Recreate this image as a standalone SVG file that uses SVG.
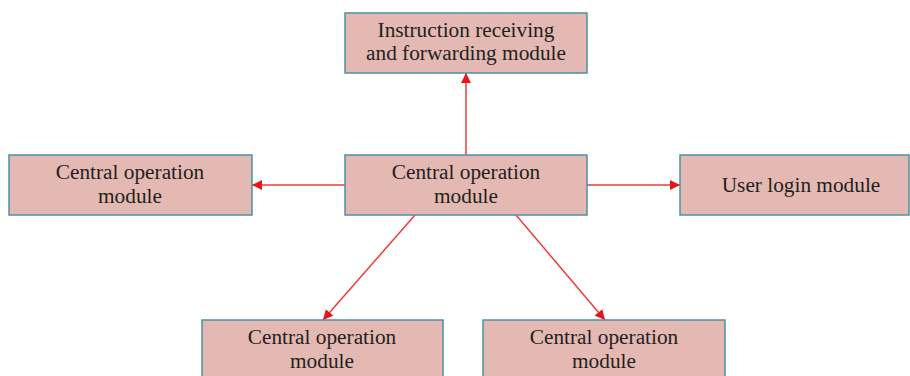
<svg xmlns="http://www.w3.org/2000/svg" width="910" height="376" viewBox="0 0 910 376">
<style>
.box{fill:#e4b9b4;stroke:#4b93a3;stroke-width:1.5}
.t{font-family:"Liberation Serif","Times New Roman",serif;font-size:21.3px;fill:#231f20;text-anchor:middle}
.c{stroke:#ef3b3b;stroke-width:1.5;fill:none;marker-end:url(#ah)}
</style>
<defs>
<marker id="ah" viewBox="0 0 10 10" refX="10" refY="5" markerWidth="11" markerHeight="10" markerUnits="userSpaceOnUse" orient="auto">
<path d="M0,0 L10,5 L0,10 z" fill="#e8151b"/>
</marker>
</defs>
<rect width="910" height="376" fill="#fff"/>
<g id="connectors">
<line class="c" x1="466" y1="155" x2="466" y2="73"/>
<line class="c" x1="345" y1="185" x2="252" y2="185"/>
<line class="c" x1="587" y1="185" x2="680" y2="185"/>
<line class="c" x1="415" y1="215" x2="323" y2="320"/>
<line class="c" x1="516" y1="215" x2="605" y2="320"/>
</g>
<g id="instruction">
<rect class="box" x="345" y="13" width="242" height="60"/>
<text class="t" x="466" y="37">Instruction receiving</text>
<text class="t" x="466" y="60">and forwarding module</text>
</g>
<g id="center">
<rect class="box" x="345" y="155" width="242" height="60"/>
<text class="t" x="466" y="179">Central operation</text>
<text class="t" x="466" y="203">module</text>
</g>
<g id="left">
<rect class="box" x="9" y="155" width="243" height="60"/>
<text class="t" x="130" y="179">Central operation</text>
<text class="t" x="130" y="203">module</text>
</g>
<g id="login">
<rect class="box" x="680" y="155" width="229" height="60"/>
<text class="t" x="801" y="192">User login module</text>
</g>
<g id="bottomleft">
<rect class="box" x="202" y="320" width="241" height="70"/>
<text class="t" x="322" y="344">Central operation</text>
<text class="t" x="322" y="368">module</text>
</g>
<g id="bottomright">
<rect class="box" x="483" y="320" width="242" height="70"/>
<text class="t" x="604" y="344">Central operation</text>
<text class="t" x="604" y="368">module</text>
</g>
</svg>
